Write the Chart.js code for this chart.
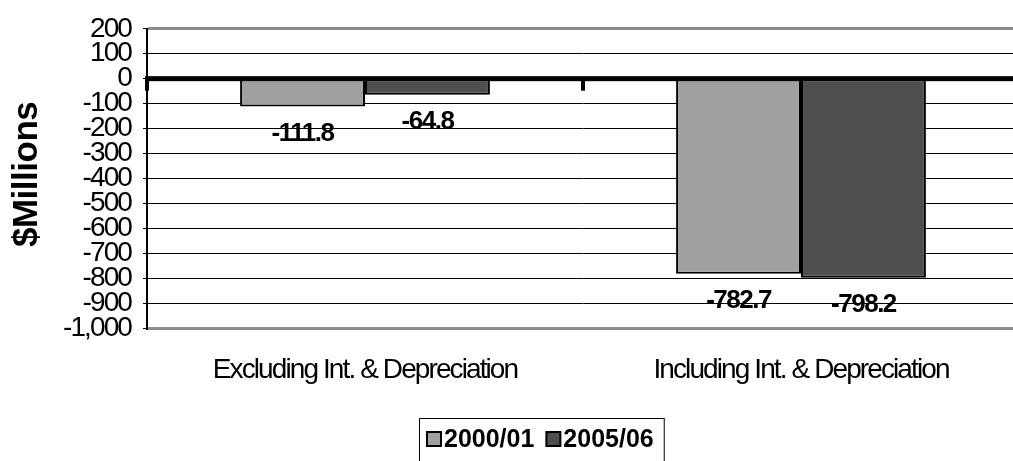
<!DOCTYPE html>
<html>
<head>
<meta charset="utf-8">
<script src="https://cdn.jsdelivr.net/npm/chart.js@4.4.1/dist/chart.umd.min.js"></script>
<style>
  body { margin: 0; background: #fff; }
  #wrap { width: 1013px; height: 461px; overflow: hidden; }
  canvas { display: block; }
</style>
</head>
<body>
<div id="wrap"><canvas id="netChart" width="1019" height="461"></canvas></div>
<script>
const categories = ['Excluding Int. & Depreciation', 'Including Int. & Depreciation'];
const seriesLabels = ['2000/01', '2005/06'];
const values2000 = [-111.8, -782.7];
const values2005 = [-64.8, -798.2];
const yMin = -1000, yMax = 200, yStep = 100;
const yTitle = '$Millions';

const FONT = "'Liberation Sans', Arial, sans-serif";

// zero axis line + category tick stubs, value labels, y title and boxed legend
const overlayPlugin = {
  id: 'overlay',
  beforeDraw(chart) {
    const ctx = chart.ctx;
    const area = chart.chartArea;
    ctx.save();
    ctx.letterSpacing = '-0.5px';
    ctx.font = 'bold 35px ' + FONT;
    ctx.fillStyle = '#000';
    ctx.textAlign = 'center';
    ctx.textBaseline = 'alphabetic';
    ctx.translate(37, (area.top + area.bottom) / 2 - 4);
    ctx.rotate(-Math.PI / 2);
    ctx.fillText(yTitle, 0, 0);
    ctx.restore();
    // tight tracking for the axis labels
    ctx.letterSpacing = '-1.9px';
  },
  afterDatasetsDraw(chart) {
    const ctx = chart.ctx;
    const x = chart.scales.x, y = chart.scales.y;
    const area = chart.chartArea;
    const y0 = y.getPixelForValue(0);
    ctx.save();
    ctx.letterSpacing = '0px';
    ctx.fillStyle = '#000';
    ctx.fillRect(area.left - 2, y0 - 2.5, area.right - area.left + 2, 5);
    const stubs = [area.left];
    for (let i = 0; i < categories.length - 1; i++) {
      stubs.push((x.getPixelForTick(i) + x.getPixelForTick(i + 1)) / 2);
    }
    stubs.forEach(sx => ctx.fillRect(sx - 2, y0, 4, 12));

    ctx.letterSpacing = '-1.5px';
    ctx.font = 'bold 26px ' + FONT;
    ctx.textAlign = 'center';
    ctx.textBaseline = 'middle';
    chart.data.datasets.forEach((ds, di) => {
      chart.getDatasetMeta(di).data.forEach((bar, i) => {
        ctx.fillText(ds.data[i].toFixed(1), bar.x, bar.y + 27);
      });
    });
    ctx.restore();
  },
  afterDraw(chart) {
    const ctx = chart.ctx;
    ctx.save();
    ctx.letterSpacing = '0px';
    ctx.font = 'bold 25px ' + FONT;
    const box = 14, gapBox = 3, gapItem = 12, padL = 8, padR = 10;
    const widths = chart.data.datasets.map(ds => ctx.measureText(ds.label).width);
    let total = padL + padR;
    widths.forEach((w, i) => { total += box + gapBox + w + (i ? 0 : gapItem); });
    const left = Math.round(541 - total / 2), top = 418, cy = 439;
    ctx.strokeStyle = '#000';
    ctx.lineWidth = 1;
    ctx.strokeRect(left + 0.5, top + 0.5, total, 60);
    let cx = left + padL;
    ctx.textBaseline = 'middle';
    ctx.textAlign = 'left';
    chart.data.datasets.forEach((ds, i) => {
      ctx.fillStyle = ds.backgroundColor;
      ctx.fillRect(cx, cy - box / 2, box, box);
      ctx.lineWidth = 2;
      ctx.strokeRect(cx, cy - box / 2, box, box);
      cx += box + gapBox;
      ctx.fillStyle = '#000';
      ctx.fillText(ds.label, cx, cy + 1);
      cx += widths[i] + gapItem;
    });
    ctx.restore();
    ctx.letterSpacing = '0px';
  }
};

new Chart(document.getElementById('netChart'), {
  type: 'bar',
  data: {
    labels: categories,
    datasets: [
      { label: seriesLabels[0], data: values2000, backgroundColor: '#a0a0a0', borderColor: '#000', borderWidth: 2, borderSkipped: false },
      { label: seriesLabels[1], data: values2005, backgroundColor: '#4f4f4f', borderColor: '#000', borderWidth: 2, borderSkipped: false }
    ]
  },
  options: {
    responsive: false,
    animation: false,
    layout: { padding: { top: 25, left: 0, right: 0, bottom: 0 } },
    plugins: {
      legend: { display: false },
      tooltip: { enabled: false }
    },
    datasets: { bar: { barPercentage: 1, categoryPercentage: 0.573 } },
    scales: {
      x: {
        grid: { display: false, drawTicks: false },
        border: { display: false },
        ticks: { color: '#000', font: { family: FONT, size: 28 }, padding: 25, maxRotation: 0, autoSkip: false },
        afterFit(scale) { scale.height = 133; }
      },
      y: {
        min: yMin,
        max: yMax,
        ticks: {
          stepSize: yStep,
          autoSkip: false,
          color: '#000',
          padding: 12,
          font: { family: FONT, size: 28 },
          callback: v => v.toLocaleString('en-US')
        },
        grid: {
          color: ctx => (ctx.tick && (ctx.tick.value === yMax || ctx.tick.value === yMin)) ? '#8c8c8c' : '#000',
          lineWidth: ctx => (ctx.tick && (ctx.tick.value === yMax || ctx.tick.value === yMin)) ? 3 : 1,
          tickColor: '#000',
          tickWidth: 1,
          tickLength: 4
        },
        border: { color: '#000', width: 2 },
        title: { display: false },
        afterFit(scale) { scale.width = 147; }
      }
    }
  },
  plugins: [overlayPlugin]
});
</script>
</body>
</html>
